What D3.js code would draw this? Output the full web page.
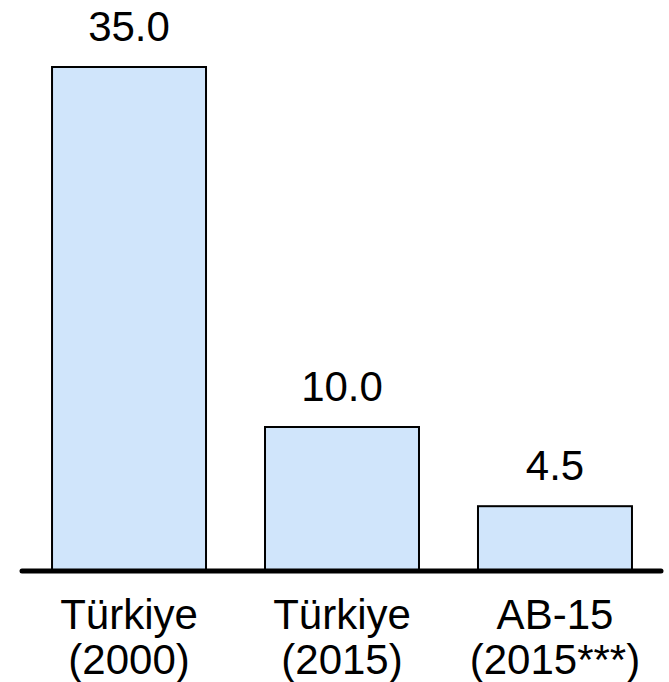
<!DOCTYPE html>
<html>
<head>
<meta charset="utf-8">
<script src="https://cdn.jsdelivr.net/npm/d3@7"></script>
<style>
  html, body { margin: 0; padding: 0; background: #fff; }
  svg text { font-family: "Liberation Sans", Arial, sans-serif; fill: #000; }
</style>
</head>
<body>
<div id="chart"></div>
<script>
  // values
  const categories = ["Türkiye|(2000)", "Türkiye|(2015)", "AB-15|(2015***)"];
  const values = [35.0, 10.0, 4.5];

  const W = 669, H = 682;
  const baseY = 571;

  const svg = d3.select("#chart").append("svg")
    .attr("width", W).attr("height", H);

  const x = d3.scaleBand()
    .domain(categories)
    .range([22, 662])
    .paddingInner(0.277)
    .paddingOuter(0.141);

  const y = d3.scaleLinear().domain([0, 35]).range([baseY, 67]);

  // bars
  svg.append("g").selectAll("rect")
    .data(values).join("rect")
    .attr("x", (d, i) => x(categories[i]))
    .attr("y", d => y(d))
    .attr("width", x.bandwidth())
    .attr("height", d => baseY - y(d))
    .attr("fill", "#d0e5fb")
    .attr("stroke", "#000")
    .attr("stroke-width", 2);

  // value labels
  svg.append("g").selectAll("text")
    .data(values).join("text")
    .attr("x", (d, i) => x(categories[i]) + x.bandwidth() / 2)
    .attr("y", d => y(d) - 26)
    .attr("text-anchor", "middle")
    .attr("font-size", 42)
    .text(d => d.toFixed(1));

  // baseline
  svg.append("line")
    .attr("x1", 22).attr("x2", 661)
    .attr("y1", baseY).attr("y2", baseY)
    .attr("stroke", "#000")
    .attr("stroke-width", 5)
    .attr("stroke-linecap", "round");

  // category labels (two lines)
  const cat = svg.append("g").selectAll("text")
    .data(categories).join("text")
    .attr("text-anchor", "middle")
    .attr("font-size", 42)
    .attr("transform", d => `translate(${x(d) + x.bandwidth() / 2},629)`);
  cat.selectAll("tspan")
    .data(d => d.split("|")).join("tspan")
    .attr("x", 0)
    .attr("dy", (d, i) => i === 0 ? 0 : 45)
    .text(d => d);
</script>
</body>
</html>
